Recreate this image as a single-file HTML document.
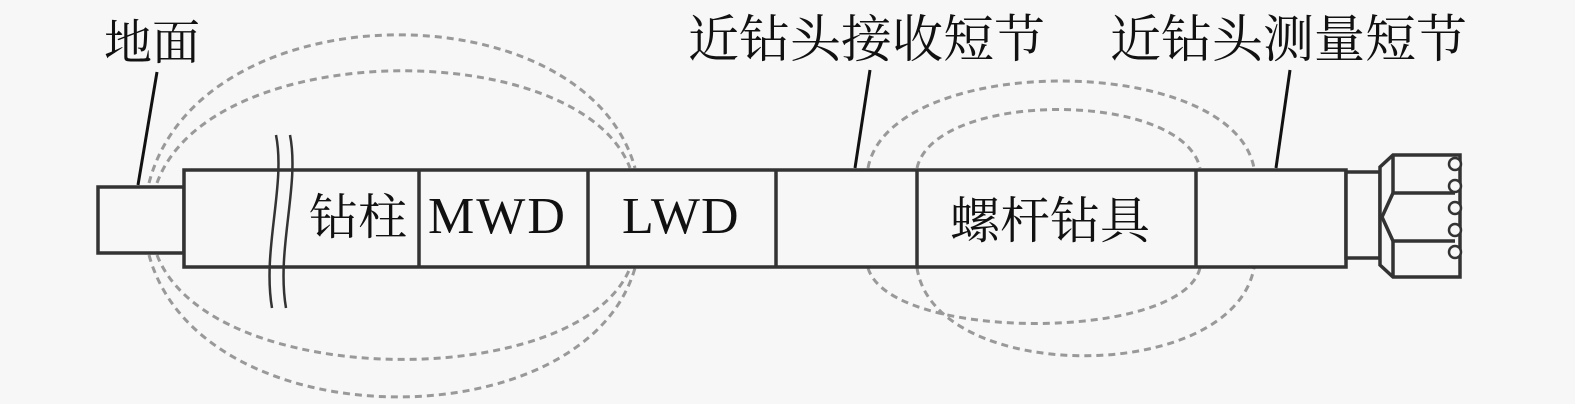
<!DOCTYPE html>
<html><head><meta charset="utf-8"><style>
html,body{margin:0;padding:0;background:#f7f7f7;}
svg{display:block;}
text{font-family:"Liberation Serif","Noto Serif CJK SC","Noto Sans CJK SC",serif;fill:#111;}
</style></head><body>
<svg width="1575" height="404" viewBox="0 0 1575 404" xmlns="http://www.w3.org/2000/svg">
<rect width="1575" height="404" fill="#f7f7f7"/>
<g fill="none" stroke="#999" stroke-width="3" stroke-dasharray="7,5">
<path d="M149,183 C200,-12 585,-12 635,168"/>
<path d="M157,183 C210,36 580,36 630,168"/>
<path d="M149,255 C200,442 585,442 635,268"/>
<path d="M157,255 C210,392 580,392 630,268"/>
<path d="M868,168 C890,52 1232,52 1254,168"/>
<path d="M917,168 C935,90 1182,90 1200,168"/>
<path d="M868,268 C890,342 1182,342 1200,268"/>
<path d="M917,268 C935,385 1232,385 1254,268"/>
</g>
<g fill="#f7f7f7" stroke="#333" stroke-width="3.5">
<rect x="98" y="187" width="86" height="66"/>
<rect x="184" y="170" width="1162" height="97"/>
<rect x="1346" y="172" width="34" height="86"/>
<path d="M1393,155 L1460,155 L1460,277 L1393,277 L1380,265 L1380,167 Z"/>
</g>
<g stroke="#333" stroke-width="3.5" fill="none">
<line x1="419" y1="170" x2="419" y2="267"/>
<line x1="588" y1="170" x2="588" y2="267"/>
<line x1="776" y1="170" x2="776" y2="267"/>
<line x1="917" y1="170" x2="917" y2="267"/>
<line x1="1196" y1="170" x2="1196" y2="267"/>
<line x1="1393" y1="155" x2="1393" y2="193"/>
<line x1="1393" y1="241" x2="1393" y2="277"/>
<line x1="1393" y1="193" x2="1455" y2="193"/>
<line x1="1393" y1="241" x2="1455" y2="241"/>
<path d="M1393,193 L1382,217 L1393,241"/>
</g>
<g stroke="#333" stroke-width="2.5" fill="#f7f7f7">
<circle cx="1455" cy="164" r="6"/>
<circle cx="1455" cy="186" r="6"/>
<circle cx="1455" cy="208" r="6"/>
<circle cx="1455" cy="230" r="6"/>
<circle cx="1455" cy="252" r="6"/>
</g>
<path d="M276,135 C286,185 262,250 272,308 M290,135 C300,185 276,250 286,308" stroke="#333" stroke-width="2.5" fill="none"/>
<g stroke="#111" stroke-width="3">
<line x1="157" y1="72" x2="138" y2="185"/>
<line x1="870" y1="70" x2="855" y2="168"/>
<line x1="1290" y1="70" x2="1276" y2="168"/>
</g>
<text x="104" y="59" font-size="48">地面</text>
<text x="688" y="57" font-size="51">近钻头接收短节</text>
<text x="1110" y="57" font-size="51">近钻头测量短节</text>
<text x="309" y="234" font-size="49">钻柱</text>
<text x="428" y="233" font-size="52" letter-spacing="2">MWD</text>
<text x="622" y="233" font-size="52" letter-spacing="1">LWD</text>
<text x="950" y="238" font-size="50">螺杆钻具</text>
</svg>
</body></html>
